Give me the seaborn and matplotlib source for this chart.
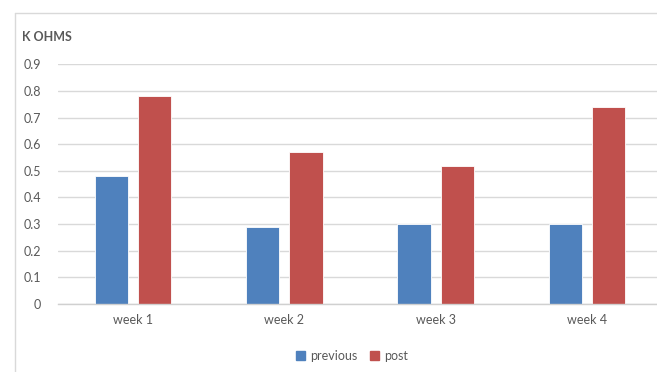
import matplotlib
matplotlib.use("Agg")
import matplotlib.pyplot as plt
import seaborn as sns
import pandas as pd
from matplotlib.patches import Rectangle

weeks = ["week 1", "week 2", "week 3", "week 4"]
previous = [0.48, 0.29, 0.30, 0.30]
post = [0.78, 0.57, 0.52, 0.74]
series = ["previous", "post"]
yticks = [0, 0.1, 0.2, 0.3, 0.4, 0.5, 0.6, 0.7, 0.8, 0.9]
ylabels = ["0", "0.1", "0.2", "0.3", "0.4", "0.5", "0.6", "0.7", "0.8", "0.9"]

df = pd.DataFrame({
    "week": weeks * 2,
    "series": [series[0]] * len(weeks) + [series[1]] * len(weeks),
    "value": previous + post,
})

sns.set_theme(style="white")
plt.rcParams["font.family"] = ["Lato", "DejaVu Sans"]

W, H = 657, 372
fig = plt.figure(figsize=(W / 100, H / 100), dpi=100)

# chart frame
fig.add_artist(plt.Line2D([14.5 / W, 14.5 / W], [0, 1 - 12.5 / H],
                          transform=fig.transFigure, color="#D9D9D9", lw=1))
fig.add_artist(plt.Line2D([14.5 / W, 1], [1 - 12.5 / H, 1 - 12.5 / H],
                          transform=fig.transFigure, color="#D9D9D9", lw=1))

left, right = 57.5 / W, 662.5 / W
bottom, top = 1 - 304 / H, 1 - 64.3 / H
ax = fig.add_axes([left, bottom, right - left, top - bottom])

palette = {"previous": "#4F81BD", "post": "#C0504D"}
sns.barplot(data=df, x="week", y="value", hue="series", hue_order=series,
            palette=palette, width=0.57, gap=0.23, ax=ax, legend=False,
            edgecolor="#FFFFFF", linewidth=0.6, saturation=1)

ax.set_ylim(0, 0.9)
ax.set_xlim(-0.5, 3.5)
ax.set_yticks(yticks)
ax.set_yticklabels(ylabels)
ax.yaxis.grid(True, color="#D9D9D9", lw=1)
ax.set_axisbelow(True)
for s in ["top", "right", "left"]:
    ax.spines[s].set_visible(False)
ax.spines["bottom"].set_color("#D0D0D0")
ax.spines["bottom"].set_linewidth(1)
ax.set_xlabel("")
ax.set_ylabel("")
ax.tick_params(axis="both", length=0, labelsize=9, colors="#595959")
ax.tick_params(axis="y", pad=12)
ax.tick_params(axis="x", pad=7)

fig.text(22 / W, 1 - 37 / H, "K OHMS", fontsize=9, fontweight="bold",
         color="#595959", ha="left", va="center")

handles = [Rectangle((0, 0), 1, 1, color=palette[s]) for s in series]
fig.legend(handles, series, loc="center", bbox_to_anchor=(352 / W, 1 - 356 / H),
           ncol=2, frameon=False, fontsize=9, labelcolor="#595959",
           handlelength=0.7, handleheight=0.7, handletextpad=0.4,
           columnspacing=1.0)

fig.savefig("out.png", dpi=100)
